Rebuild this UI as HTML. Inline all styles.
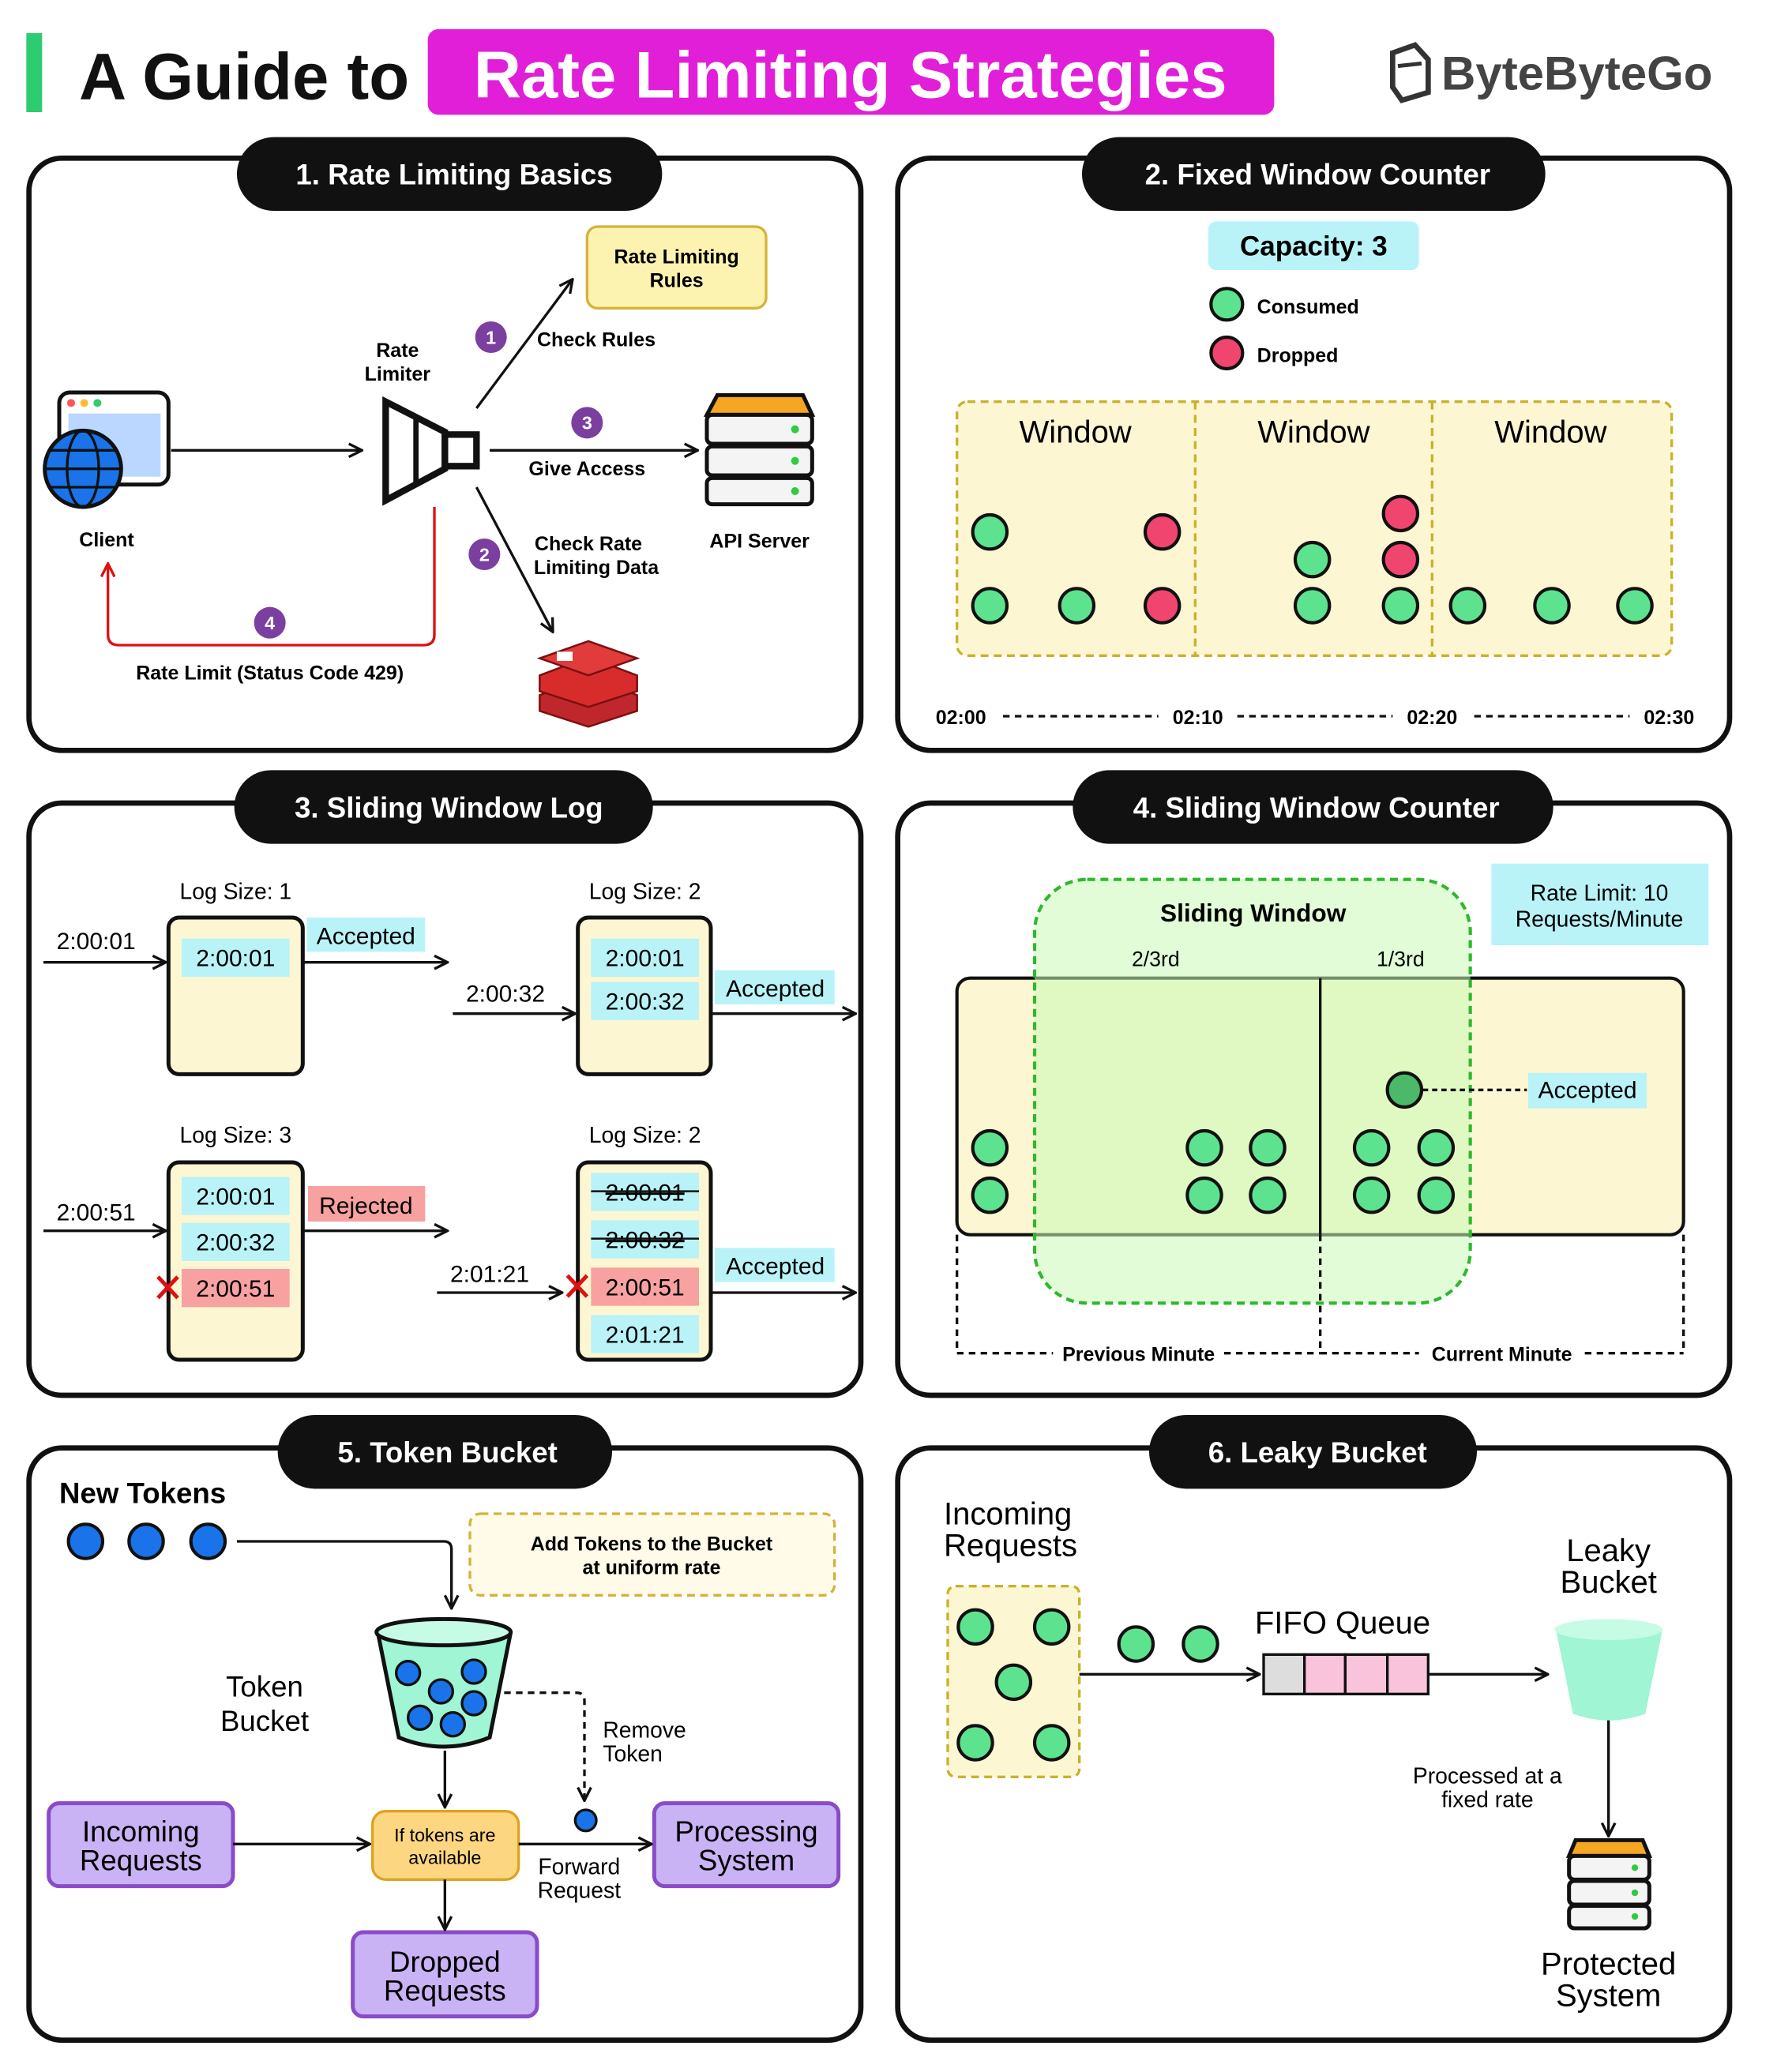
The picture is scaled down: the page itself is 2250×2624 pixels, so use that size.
<!DOCTYPE html>
<html><head><meta charset="utf-8"><style>
html,body{margin:0;padding:0;background:#fff}
svg{display:block}
text{font-family:"Liberation Sans",sans-serif}
</style></head><body>
<svg width="2250" height="2624" viewBox="0 0 1350 1574" xmlns="http://www.w3.org/2000/svg">
<defs>
<marker id="a" viewBox="0 0 12 12" refX="11" refY="6" markerWidth="12" markerHeight="12" markerUnits="userSpaceOnUse" orient="auto"><path d="M1,1 L11,6 L1,11" fill="none" stroke="#111" stroke-width="2"/></marker>
<marker id="ar" viewBox="0 0 12 12" refX="11" refY="6" markerWidth="12" markerHeight="12" markerUnits="userSpaceOnUse" orient="auto"><path d="M1,1 L11,6 L1,11" fill="none" stroke="#d11" stroke-width="2"/></marker>
</defs>
<rect width="1350" height="1574" fill="#fff"/>
<!-- Title -->
<rect x="20" y="25" width="12" height="60" fill="#2ecc71"/>
<text x="60" y="75" font-size="50" font-weight="bold" fill="#111">A Guide to</text>
<rect x="325" y="22" width="643" height="65" rx="8" fill="#e11fd8"/>
<text x="646" y="74" font-size="50" font-weight="bold" fill="#fff" text-anchor="middle">Rate Limiting Strategies</text>
<path d="M1058,40 L1075,34 L1085,45 L1085,70 L1065,76 L1058,66 Z" fill="#fff" stroke="#333" stroke-width="4"/>
<path d="M1062,50 L1080,48" stroke="#333" stroke-width="3"/>
<text x="1095" y="68" font-size="36" font-weight="bold" fill="#444">ByteByteGo</text>

<g fill="#fff" stroke="#111" stroke-width="4">
<rect x="22" y="120" width="632" height="450" rx="25"/>
<rect x="682" y="120" width="632" height="450" rx="25"/>
<rect x="22" y="610" width="632" height="450" rx="25"/>
<rect x="682" y="610" width="632" height="450" rx="25"/>
<rect x="22" y="1100" width="632" height="450" rx="25"/>
<rect x="682" y="1100" width="632" height="450" rx="25"/>
</g>
<g fill="#111">
<rect x="180" y="104" width="323" height="56" rx="28"/>
<rect x="822" y="104" width="352" height="56" rx="28"/>
<rect x="178" y="585" width="318" height="56" rx="28"/>
<rect x="815" y="585" width="365" height="56" rx="28"/>
<rect x="211" y="1075" width="254" height="56" rx="28"/>
<rect x="873" y="1075" width="249" height="56" rx="28"/>
</g>
<g fill="#fff" font-size="22" font-weight="bold" text-anchor="middle">
<text x="345" y="140">1. Rate Limiting Basics</text>
<text x="1001" y="140">2. Fixed Window Counter</text>
<text x="341" y="621">3. Sliding Window Log</text>
<text x="1000" y="621">4. Sliding Window Counter</text>
<text x="340" y="1111">5. Token Bucket</text>
<text x="1001" y="1111">6. Leaky Bucket</text>
</g>

<!-- Panel 1 -->
<rect x="45" y="298" width="83" height="70" rx="8" fill="#fff" stroke="#111" stroke-width="3"/>
<rect x="52" y="314" width="70" height="48" fill="#bcd7ff"/>
<circle cx="54" cy="306" r="3" fill="#f55"/><circle cx="64" cy="306" r="3" fill="#fb3"/><circle cx="74" cy="306" r="3" fill="#3c6"/>
<circle cx="63" cy="356" r="29" fill="#1a73e8" stroke="#111" stroke-width="3"/>
<ellipse cx="63" cy="356" rx="12" ry="29" fill="none" stroke="#111" stroke-width="2"/>
<path d="M34,356 H92 M38,342 H88 M38,370 H88" stroke="#111" stroke-width="2"/>
<text x="81" y="415" font-size="15" font-weight="bold" text-anchor="middle">Client</text>
<line x1="130" y1="342" x2="275" y2="342" stroke="#111" stroke-width="2" marker-end="url(#a)"/>
<path d="M293,305 L338,328 L338,356 L293,380 Z" fill="#fff" stroke="#111" stroke-width="5"/>
<line x1="316" y1="318" x2="316" y2="368" stroke="#111" stroke-width="4"/>
<rect x="338" y="330" width="24" height="24" fill="#fff" stroke="#111" stroke-width="5"/>
<text x="302" y="271" font-size="15" font-weight="bold" text-anchor="middle">Rate</text>
<text x="302" y="289" font-size="15" font-weight="bold" text-anchor="middle">Limiter</text>
<line x1="362" y1="310" x2="435" y2="212" stroke="#111" stroke-width="2" marker-end="url(#a)"/>
<rect x="446" y="172" width="136" height="62" rx="8" fill="#fdf3b0" stroke="#d4b23a" stroke-width="2"/>
<text x="514" y="200" font-size="15" font-weight="bold" text-anchor="middle">Rate Limiting</text>
<text x="514" y="218" font-size="15" font-weight="bold" text-anchor="middle">Rules</text>
<g fill="#7b3fa0"><circle cx="373" cy="256" r="12"/><circle cx="446" cy="321" r="12"/><circle cx="368" cy="421" r="12"/><circle cx="205" cy="473" r="12"/></g>
<g fill="#fff" font-size="14" font-weight="bold" text-anchor="middle"><text x="373" y="261">1</text><text x="446" y="326">3</text><text x="368" y="426">2</text><text x="205" y="478">4</text></g>
<text x="408" y="263" font-size="15" font-weight="bold">Check Rules</text>
<line x1="372" y1="342" x2="530" y2="342" stroke="#111" stroke-width="2" marker-end="url(#a)"/>
<text x="446" y="361" font-size="15" font-weight="bold" text-anchor="middle">Give Access</text>
<path d="M545,300 H610 L617,315 H537 Z" fill="#f5a623" stroke="#111" stroke-width="3"/>
<g fill="#f4f4f4" stroke="#111" stroke-width="3"><rect x="537" y="315" width="80" height="22" rx="4"/><rect x="537" y="339" width="80" height="22" rx="4"/><rect x="537" y="363" width="80" height="20" rx="4"/></g>
<g fill="#2ecc40"><circle cx="604" cy="326" r="3"/><circle cx="604" cy="350" r="3"/><circle cx="604" cy="373" r="3"/></g>
<text x="577" y="416" font-size="15" font-weight="bold" text-anchor="middle">API Server</text>
<line x1="362" y1="370" x2="420" y2="480" stroke="#111" stroke-width="2" marker-end="url(#a)"/>
<text x="447" y="418" font-size="15" font-weight="bold" text-anchor="middle">Check Rate</text>
<text x="453" y="436" font-size="15" font-weight="bold" text-anchor="middle">Limiting Data</text>
<g stroke="#7a1010" stroke-width="1.5">
<path d="M410,528 L447,514 L484,528 L484,540 L447,552 L410,540 Z" fill="#c0272d"/>
<path d="M410,513 L447,499 L484,513 L484,525 L447,537 L410,525 Z" fill="#d82c2c"/>
<path d="M410,500 L447,487 L484,500 L447,513 Z" fill="#e23b3b"/>
</g>
<rect x="423" y="495" width="12" height="7" fill="#fff"/>
<path d="M330,385 V482 Q330,490 322,490 H90 Q82,490 82,482 V428" fill="none" stroke="#d11" stroke-width="2" marker-end="url(#ar)"/>
<text x="205" y="516" font-size="15" font-weight="bold" text-anchor="middle">Rate Limit (Status Code 429)</text>

<!-- Panel 2 -->
<rect x="918" y="168" width="160" height="37" rx="6" fill="#b9f3f7"/>
<text x="998" y="194" font-size="21" font-weight="bold" text-anchor="middle">Capacity: 3</text>
<circle cx="932" cy="231" r="12" fill="#5de38f" stroke="#111" stroke-width="2.5"/>
<text x="955" y="238" font-size="15" font-weight="bold">Consumed</text>
<circle cx="932" cy="268" r="12" fill="#f0456e" stroke="#111" stroke-width="2.5"/>
<text x="955" y="275" font-size="15" font-weight="bold">Dropped</text>
<rect x="727" y="305" width="543" height="193" rx="8" fill="#fdf6d3" stroke="#c8b22c" stroke-width="2" stroke-dasharray="6,4"/>
<line x1="908" y1="305" x2="908" y2="498" stroke="#c8b22c" stroke-width="2" stroke-dasharray="6,4"/>
<line x1="1088" y1="305" x2="1088" y2="498" stroke="#c8b22c" stroke-width="2" stroke-dasharray="6,4"/>
<g font-size="24" text-anchor="middle"><text x="817" y="336">Window</text><text x="998" y="336">Window</text><text x="1178" y="336">Window</text></g>
<g fill="#5de38f" stroke="#111" stroke-width="2.5">
<circle cx="752" cy="404" r="13"/><circle cx="752" cy="460" r="13"/><circle cx="818" cy="460" r="13"/>
<circle cx="997" cy="425" r="13"/><circle cx="997" cy="460" r="13"/><circle cx="1064" cy="460" r="13"/>
<circle cx="1115" cy="460" r="13"/><circle cx="1179" cy="460" r="13"/><circle cx="1242" cy="460" r="13"/>
</g>
<g fill="#f0456e" stroke="#111" stroke-width="2.5">
<circle cx="883" cy="404" r="13"/><circle cx="883" cy="460" r="13"/><circle cx="1064" cy="390" r="13"/><circle cx="1064" cy="425" r="13"/>
</g>
<g font-size="15" font-weight="bold" text-anchor="middle"><text x="730" y="550">02:00</text><text x="910" y="550">02:10</text><text x="1088" y="550">02:20</text><text x="1268" y="550">02:30</text></g>
<g stroke="#111" stroke-width="2" stroke-dasharray="5,4"><line x1="762" y1="544" x2="880" y2="544"/><line x1="940" y1="544" x2="1058" y2="544"/><line x1="1120" y1="544" x2="1238" y2="544"/></g>

<!-- Panel 3 -->
<g fill="#fdf6d3" stroke="#111" stroke-width="3">
<rect x="128" y="697" width="102" height="119" rx="8"/><rect x="439" y="697" width="101" height="119" rx="8"/>
<rect x="128" y="883" width="102" height="150" rx="8"/><rect x="439" y="883" width="101" height="150" rx="8"/>
</g>
<g font-size="17" text-anchor="middle"><text x="179" y="683">Log Size: 1</text><text x="490" y="683">Log Size: 2</text><text x="179" y="868">Log Size: 3</text><text x="490" y="868">Log Size: 2</text></g>
<g fill="#b9f3f7">
<rect x="138" y="713" width="82" height="29"/><rect x="449" y="713" width="82" height="29"/><rect x="449" y="746" width="82" height="29"/>
<rect x="138" y="894" width="82" height="29"/><rect x="138" y="929" width="82" height="29"/>
<rect x="449" y="891" width="82" height="29"/><rect x="449" y="927" width="82" height="29"/><rect x="449" y="999" width="82" height="29"/>
<rect x="233" y="697" width="90" height="26"/><rect x="543" y="737" width="91" height="26"/><rect x="543" y="948" width="91" height="26"/>
</g>
<g fill="#f7a1a1"><rect x="138" y="964" width="82" height="29"/><rect x="449" y="963" width="82" height="29"/><rect x="234" y="901" width="89" height="27"/></g>
<g font-size="18" text-anchor="middle">
<text x="179" y="734">2:00:01</text><text x="490" y="734">2:00:01</text><text x="490" y="767">2:00:32</text>
<text x="179" y="915">2:00:01</text><text x="179" y="950">2:00:32</text><text x="179" y="985">2:00:51</text>
<text x="490" y="912" text-decoration="line-through">2:00:01</text><text x="490" y="948" text-decoration="line-through">2:00:32</text>
<text x="490" y="984">2:00:51</text><text x="490" y="1020">2:01:21</text>
<text x="278" y="717">Accepted</text><text x="589" y="757">Accepted</text><text x="589" y="968">Accepted</text><text x="278" y="922">Rejected</text>
<text x="73" y="721">2:00:01</text><text x="384" y="761">2:00:32</text><text x="73" y="927">2:00:51</text><text x="372" y="974">2:01:21</text>
</g>
<g stroke="#111" stroke-width="1.5"><line x1="449" y1="905" x2="531" y2="905"/><line x1="449" y1="941" x2="531" y2="941"/></g>
<g stroke="#111" stroke-width="2" marker-end="url(#a)">
<line x1="33" y1="731" x2="126" y2="731"/><line x1="230" y1="731" x2="340" y2="731"/><line x1="344" y1="770" x2="437" y2="770"/><line x1="540" y1="770" x2="650" y2="770"/>
<line x1="33" y1="935" x2="126" y2="935"/><line x1="230" y1="935" x2="340" y2="935"/><line x1="332" y1="982" x2="427" y2="982"/><line x1="540" y1="982" x2="650" y2="982"/>
</g>
<g stroke="#e01010" stroke-width="3"><path d="M120,970 L135,986 M135,970 L120,986"/><path d="M431,969 L446,985 M446,969 L431,985"/></g>

<!-- Panel 4 -->
<rect x="1133" y="656" width="165" height="62" fill="#b9f3f7"/>
<text x="1215" y="684" font-size="17" text-anchor="middle">Rate Limit: 10</text>
<text x="1215" y="704" font-size="17" text-anchor="middle">Requests/Minute</text>
<rect x="727" y="743" width="552" height="195" rx="10" fill="#fdf6d3" stroke="#111" stroke-width="2.5"/>
<rect x="786" y="668" width="331" height="322" rx="40" fill="rgba(200,250,180,0.55)" stroke="#2eb82e" stroke-width="2.5" stroke-dasharray="6,4"/>
<line x1="1003" y1="743" x2="1003" y2="938" stroke="#111" stroke-width="2"/>
<text x="952" y="700" font-size="19" font-weight="bold" text-anchor="middle">Sliding Window</text>
<text x="878" y="734" font-size="16" text-anchor="middle">2/3rd</text>
<text x="1064" y="734" font-size="16" text-anchor="middle">1/3rd</text>
<g fill="#5de38f" stroke="#111" stroke-width="2.5">
<circle cx="752" cy="872" r="13"/><circle cx="752" cy="908" r="13"/><circle cx="915" cy="872" r="13"/><circle cx="963" cy="872" r="13"/><circle cx="915" cy="908" r="13"/><circle cx="963" cy="908" r="13"/>
<circle cx="1042" cy="872" r="13"/><circle cx="1091" cy="872" r="13"/><circle cx="1042" cy="908" r="13"/><circle cx="1091" cy="908" r="13"/>
</g>
<circle cx="1067" cy="828" r="13" fill="#4cb86a" stroke="#111" stroke-width="2.5"/>
<line x1="1081" y1="828" x2="1160" y2="828" stroke="#111" stroke-width="2" stroke-dasharray="4,3"/>
<rect x="1161" y="815" width="90" height="27" fill="#b9f3f7"/>
<text x="1206" y="834" font-size="18" text-anchor="middle">Accepted</text>
<g stroke="#111" stroke-width="2" stroke-dasharray="5,4" fill="none">
<line x1="727" y1="938" x2="727" y2="1028"/><line x1="1003" y1="938" x2="1003" y2="1028"/><line x1="1279" y1="938" x2="1279" y2="1028"/>
<line x1="727" y1="1028" x2="800" y2="1028"/><line x1="930" y1="1028" x2="1003" y2="1028"/><line x1="1003" y1="1028" x2="1078" y2="1028"/><line x1="1204" y1="1028" x2="1279" y2="1028"/>
</g>
<text x="865" y="1034" font-size="15" font-weight="bold" text-anchor="middle">Previous Minute</text>
<text x="1141" y="1034" font-size="15" font-weight="bold" text-anchor="middle">Current Minute</text>

<!-- Panel 5 -->
<text x="45" y="1142" font-size="22" font-weight="bold">New Tokens</text>
<g fill="#1a73e8" stroke="#111" stroke-width="2.5"><circle cx="65" cy="1171" r="13"/><circle cx="111" cy="1171" r="13"/><circle cx="158" cy="1171" r="13"/></g>
<path d="M180,1171 H337 Q343,1171 343,1177 V1222" fill="none" stroke="#111" stroke-width="2" marker-end="url(#a)"/>
<rect x="357" y="1150" width="277" height="62" rx="8" fill="#fffbe8" stroke="#d4b23a" stroke-width="2" stroke-dasharray="6,4"/>
<text x="495" y="1178" font-size="15" font-weight="bold" text-anchor="middle">Add Tokens to the Bucket</text>
<text x="495" y="1196" font-size="15" font-weight="bold" text-anchor="middle">at uniform rate</text>
<path d="M287,1240 L303,1320 Q337,1334 372,1320 L388,1240" fill="#9ff5d4" stroke="#111" stroke-width="3"/>
<ellipse cx="337" cy="1240" rx="51" ry="10" fill="#c6fbe6" stroke="#111" stroke-width="3"/>
<g fill="#1a73e8" stroke="#111" stroke-width="2"><circle cx="310" cy="1271" r="9"/><circle cx="335" cy="1285" r="9"/><circle cx="360" cy="1270" r="9"/><circle cx="360" cy="1294" r="9"/><circle cx="319" cy="1305" r="9"/><circle cx="344" cy="1310" r="9"/></g>
<text x="201" y="1289" font-size="22" text-anchor="middle">Token</text>
<text x="201" y="1315" font-size="22" text-anchor="middle">Bucket</text>
<line x1="338" y1="1330" x2="338" y2="1373" stroke="#111" stroke-width="2" marker-end="url(#a)"/>
<path d="M383,1286 H438 Q444,1286 444,1292 V1368" fill="none" stroke="#111" stroke-width="2" stroke-dasharray="5,4" marker-end="url(#a)"/>
<circle cx="445" cy="1383" r="8" fill="#1a73e8" stroke="#111" stroke-width="2"/>
<text x="458" y="1320" font-size="17">Remove</text><text x="458" y="1338" font-size="17">Token</text>
<rect x="283" y="1376" width="111" height="52" rx="10" fill="#fcd680" stroke="#d9a520" stroke-width="2"/>
<text x="338" y="1399" font-size="14" text-anchor="middle">If tokens are</text>
<text x="338" y="1416" font-size="14" text-anchor="middle">available</text>
<g fill="#c9b3f5" stroke="#8a4bc8" stroke-width="3"><rect x="37" y="1370" width="140" height="63" rx="8"/><rect x="497" y="1370" width="140" height="63" rx="8"/><rect x="268" y="1468" width="140" height="64" rx="8"/></g>
<g font-size="22" text-anchor="middle"><text x="107" y="1399">Incoming</text><text x="107" y="1421">Requests</text><text x="567" y="1399">Processing</text><text x="567" y="1421">System</text><text x="338" y="1498">Dropped</text><text x="338" y="1520">Requests</text></g>
<line x1="177" y1="1401" x2="281" y2="1401" stroke="#111" stroke-width="2" marker-end="url(#a)"/>
<line x1="394" y1="1401" x2="495" y2="1401" stroke="#111" stroke-width="2" marker-end="url(#a)"/>
<text x="440" y="1424" font-size="17" text-anchor="middle">Forward</text><text x="440" y="1442" font-size="17" text-anchor="middle">Request</text>
<line x1="338" y1="1428" x2="338" y2="1466" stroke="#111" stroke-width="2" marker-end="url(#a)"/>

<!-- Panel 6 -->
<text x="717" y="1158" font-size="24">Incoming</text><text x="717" y="1182" font-size="24">Requests</text>
<rect x="720" y="1205" width="100" height="145" rx="6" fill="#fdf6d3" stroke="#c8b22c" stroke-width="2" stroke-dasharray="6,4"/>
<g fill="#5de38f" stroke="#111" stroke-width="2.5">
<circle cx="741" cy="1236" r="13"/><circle cx="799" cy="1236" r="13"/><circle cx="770" cy="1278" r="13"/><circle cx="741" cy="1324" r="13"/><circle cx="799" cy="1324" r="13"/>
<circle cx="863" cy="1249" r="13"/><circle cx="912" cy="1249" r="13"/>
</g>
<line x1="820" y1="1272" x2="957" y2="1272" stroke="#111" stroke-width="2" marker-end="url(#a)"/>
<text x="1020" y="1241" font-size="24" text-anchor="middle">FIFO Queue</text>
<rect x="960" y="1257" width="31" height="30" fill="#ddd" stroke="#111" stroke-width="2"/>
<g fill="#f9c3dc" stroke="#111" stroke-width="2"><rect x="991" y="1257" width="31" height="30"/><rect x="1022" y="1257" width="32" height="30"/><rect x="1054" y="1257" width="31" height="30"/></g>
<line x1="1085" y1="1272" x2="1176" y2="1272" stroke="#111" stroke-width="2" marker-end="url(#a)"/>
<text x="1222" y="1186" font-size="24" text-anchor="middle">Leaky</text><text x="1222" y="1210" font-size="24" text-anchor="middle">Bucket</text>
<path d="M1182,1238 L1195,1302 Q1222,1312 1250,1302 L1263,1238" fill="#9ff5d4" stroke="#111" stroke-width="0"/>
<ellipse cx="1222" cy="1238" rx="41" ry="8" fill="#c6fbe6"/>
<line x1="1222" y1="1307" x2="1222" y2="1395" stroke="#111" stroke-width="2" marker-end="url(#a)"/>
<text x="1130" y="1355" font-size="17" text-anchor="middle">Processed at a</text><text x="1130" y="1373" font-size="17" text-anchor="middle">fixed rate</text>
<path d="M1197,1398 H1248 L1253,1410 H1192 Z" fill="#f5a623" stroke="#111" stroke-width="3"/>
<g fill="#f4f4f4" stroke="#111" stroke-width="3"><rect x="1192" y="1410" width="61" height="18" rx="4"/><rect x="1192" y="1429" width="61" height="18" rx="4"/><rect x="1192" y="1448" width="61" height="17" rx="4"/></g>
<g fill="#2ecc40"><circle cx="1242" cy="1419" r="2.5"/><circle cx="1242" cy="1438" r="2.5"/><circle cx="1242" cy="1456" r="2.5"/></g>
<text x="1222" y="1500" font-size="24" text-anchor="middle">Protected</text><text x="1222" y="1524" font-size="24" text-anchor="middle">System</text>
</svg>
</body></html>
